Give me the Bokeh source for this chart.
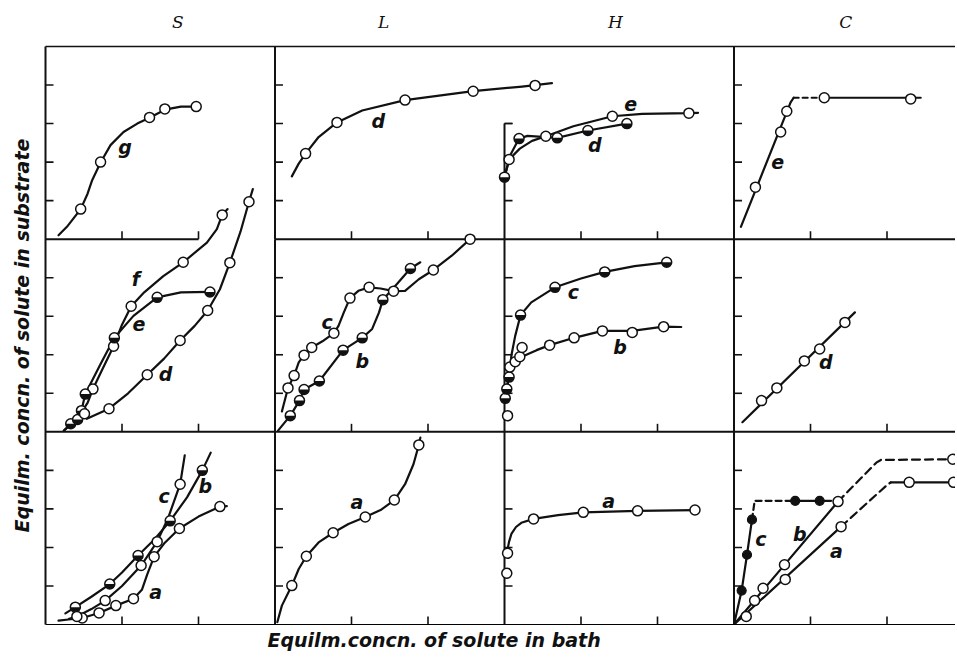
import numpy as np
from bokeh.plotting import figure
from bokeh.models import ColumnDataSource, FixedTicker, LinearAxis, Range1d, Title
from bokeh.core.properties import value
from bokeh.embed import file_html
from bokeh.resources import INLINE

# ---------------- chart texts ----------------
COLUMN_TITLES = ["S", "L", "H", "C"]
ROW_NAMES = ["top", "mid", "bottom"]
X_TITLE = "Equilm.concn. of solute in bath"
Y_TITLE = "Equilm. concn. of solute in substrate"
PANEL_X_TICKS = [1, 2]
PANEL_Y_TICKS = [1, 2, 3, 4]

# ---------------- data (local panel units) ----------------
# S column
S_TOP_G_LINE_X = [0.17, 0.28, 0.46, 0.55, 0.61, 0.72, 0.85, 1.02, 1.20, 1.36, 1.56, 1.77, 1.97]
S_TOP_G_LINE_Y = [0.10, 0.32, 0.78, 1.18, 1.53, 1.99, 2.44, 2.78, 3.00, 3.15, 3.36, 3.44, 3.44]
S_TOP_G_PTS_X = [0.46, 0.72, 1.36, 1.56, 1.97]
S_TOP_G_PTS_Y = [0.78, 2.00, 3.16, 3.38, 3.44]

S_MID_F_LINE_X = [0.24, 0.42, 0.55, 0.62, 0.75, 0.89, 1.00, 1.12, 1.29, 1.54, 1.80, 2.11, 2.24, 2.31, 2.38]
S_MID_F_LINE_Y = [0.03, 0.36, 0.75, 1.11, 1.65, 2.22, 2.78, 3.26, 3.62, 4.04, 4.40, 4.91, 5.26, 5.63, 5.78]
S_MID_F_PTS_X = [0.62, 0.89, 1.12, 1.80, 2.31]
S_MID_F_PTS_Y = [1.11, 2.22, 3.26, 4.40, 5.63]

S_MID_E_LINE_X = [0.24, 0.33, 0.42, 0.47, 0.52, 0.72, 0.90, 1.15, 1.46, 1.77, 2.15, 2.20]
S_MID_E_LINE_Y = [0.03, 0.21, 0.32, 0.55, 0.98, 1.76, 2.44, 3.01, 3.49, 3.62, 3.63, 3.65]
S_MID_E_PTS_X = [0.33, 0.42, 0.47, 0.52, 0.90, 1.46, 2.15]
S_MID_E_PTS_Y = [0.21, 0.32, 0.55, 0.98, 2.44, 3.49, 3.63]

S_MID_D_LINE_X = [0.54, 0.83, 1.08, 1.33, 1.55, 1.76, 1.95, 2.12, 2.28, 2.41, 2.55, 2.66, 2.71]
S_MID_D_LINE_Y = [0.34, 0.60, 1.00, 1.48, 1.90, 2.37, 2.75, 3.15, 3.70, 4.39, 5.20, 5.97, 6.30]
S_MID_D_PTS_X = [0.51, 0.83, 1.33, 1.76, 2.12, 2.41, 2.66]
S_MID_D_PTS_Y = [0.47, 0.60, 1.48, 2.37, 3.15, 4.39, 5.97]

S_BOT_A_LINE_X = [0.17, 0.30, 0.48, 0.70, 0.92, 1.15, 1.26, 1.33, 1.42, 1.55, 1.75, 2.00, 2.28, 2.37]
S_BOT_A_LINE_Y = [0.10, 0.13, 0.17, 0.30, 0.49, 0.67, 0.90, 1.30, 1.76, 2.10, 2.49, 2.80, 3.06, 3.07]
S_BOT_A_PTS_X = [0.48, 0.70, 0.92, 1.15, 1.42, 1.75, 2.28]
S_BOT_A_PTS_Y = [0.17, 0.30, 0.49, 0.67, 1.76, 2.49, 3.06]

S_BOT_B_LINE_X = [0.26, 0.39, 0.60, 0.84, 1.00, 1.21, 1.42, 1.63, 1.85, 2.05, 2.16]
S_BOT_B_LINE_Y = [0.29, 0.45, 0.72, 1.05, 1.35, 1.79, 2.20, 2.69, 3.30, 4.00, 4.46]
S_BOT_B_PTS_X = [0.39, 0.84, 1.21, 1.63, 2.05]
S_BOT_B_PTS_Y = [0.45, 1.05, 1.79, 2.69, 4.00]

S_BOT_C_LINE_X = [0.31, 0.41, 0.60, 0.78, 1.00, 1.25, 1.46, 1.60, 1.76, 1.82]
S_BOT_C_LINE_Y = [0.15, 0.21, 0.40, 0.62, 1.00, 1.53, 2.15, 2.75, 3.64, 4.39]
S_BOT_C_PTS_X = [0.41, 0.78, 1.25, 1.46, 1.76]
S_BOT_C_PTS_Y = [0.21, 0.62, 1.53, 2.15, 3.64]

# L column
L_TOP_D_LINE_X = [0.22, 0.31, 0.40, 0.57, 0.81, 1.14, 1.70, 2.59, 3.23, 3.62]
L_TOP_D_LINE_Y = [1.63, 1.96, 2.22, 2.65, 3.03, 3.34, 3.61, 3.84, 3.96, 4.05]
L_TOP_D_PTS_X = [0.40, 0.81, 1.70, 2.59, 3.40]
L_TOP_D_PTS_Y = [2.22, 3.03, 3.61, 3.84, 3.99]

L_MID_C_LINE_X = [0.09, 0.17, 0.25, 0.31, 0.38, 0.48, 0.62, 0.77, 0.83, 0.90, 0.98, 1.09, 1.23, 1.38, 1.55, 1.70, 1.88, 2.07, 2.31, 2.55]
L_MID_C_LINE_Y = [0.53, 1.14, 1.46, 1.80, 1.99, 2.19, 2.35, 2.56, 2.75, 3.10, 3.47, 3.66, 3.75, 3.72, 3.65, 3.66, 3.96, 4.20, 4.57, 5.00]
L_MID_C_PTS_X = [0.17, 0.25, 0.38, 0.48, 0.77, 0.98, 1.23, 1.55, 2.07, 2.55]
L_MID_C_PTS_Y = [1.14, 1.46, 1.99, 2.19, 2.56, 3.47, 3.75, 3.65, 4.20, 5.00]

L_MID_B_LINE_X = [0.04, 0.20, 0.32, 0.38, 0.58, 0.89, 1.14, 1.27, 1.36, 1.41, 1.60, 1.77, 1.90]
L_MID_B_LINE_Y = [0.03, 0.42, 0.81, 1.10, 1.32, 2.12, 2.44, 2.67, 3.10, 3.43, 3.85, 4.24, 4.40]
L_MID_B_PTS_X = [0.20, 0.32, 0.38, 0.58, 0.89, 1.14, 1.41, 1.77]
L_MID_B_PTS_Y = [0.42, 0.81, 1.10, 1.32, 2.12, 2.44, 3.43, 4.24]

L_BOT_A_LINE_X = [0.03, 0.09, 0.22, 0.31, 0.41, 0.57, 0.76, 0.96, 1.18, 1.38, 1.56, 1.70, 1.81, 1.88, 1.90]
L_BOT_A_LINE_Y = [0.06, 0.49, 1.01, 1.44, 1.77, 2.13, 2.38, 2.61, 2.79, 2.97, 3.23, 3.64, 4.16, 4.66, 4.85]
L_BOT_A_PTS_X = [0.22, 0.41, 0.76, 1.18, 1.56, 1.88]
L_BOT_A_PTS_Y = [1.01, 1.77, 2.38, 2.79, 3.23, 4.66]

# H column
H_TOP_E_LINE_X = [0.00, 0.06, 0.20, 0.36, 0.54, 0.90, 1.41, 1.80, 2.41, 2.53]
H_TOP_E_LINE_Y = [1.61, 2.07, 2.35, 2.55, 2.67, 2.93, 3.19, 3.25, 3.27, 3.28]
H_TOP_E_PTS_X = [0.06, 0.54, 1.41, 2.41]
H_TOP_E_PTS_Y = [2.07, 2.67, 3.19, 3.27]

H_TOP_D_LINE_X = [0.00, 0.08, 0.19, 0.30, 0.69, 1.09, 1.60]
H_TOP_D_LINE_Y = [1.61, 2.20, 2.61, 2.68, 2.63, 2.82, 3.00]
H_TOP_D_PTS_X = [0.00, 0.19, 0.69, 1.09, 1.60]
H_TOP_D_PTS_Y = [1.61, 2.61, 2.63, 2.82, 3.00]

H_MID_C_LINE_X = [0.01, 0.03, 0.06, 0.09, 0.14, 0.21, 0.35, 0.66, 1.00, 1.31, 1.70, 2.12]
H_MID_C_LINE_Y = [0.85, 1.11, 1.42, 1.98, 2.49, 3.03, 3.36, 3.75, 3.98, 4.15, 4.30, 4.40]
H_MID_C_PTS_X = [0.01, 0.03, 0.06, 0.21, 0.66, 1.31, 2.12]
H_MID_C_PTS_Y = [0.87, 1.11, 1.42, 3.03, 3.75, 4.15, 4.40]

H_MID_B_LINE_X = [0.03, 0.05, 0.12, 0.22, 0.42, 0.59, 0.91, 1.28, 1.67, 2.08, 2.31]
H_MID_B_LINE_Y = [0.98, 1.50, 1.76, 1.94, 2.12, 2.25, 2.44, 2.62, 2.62, 2.73, 2.72]
H_MID_B_PTS_X = [0.04, 0.07, 0.14, 0.20, 0.23, 0.59, 0.91, 1.28, 1.67, 2.08]
H_MID_B_PTS_Y = [0.42, 1.68, 1.82, 1.95, 2.19, 2.25, 2.44, 2.62, 2.58, 2.73]

H_BOT_A_LINE_X = [0.03, 0.06, 0.09, 0.15, 0.22, 0.38, 0.70, 1.03, 1.74, 2.49]
H_BOT_A_LINE_Y = [1.85, 2.15, 2.35, 2.53, 2.64, 2.74, 2.84, 2.91, 2.95, 2.97]
H_BOT_A_PTS_X = [0.03, 0.04, 0.38, 1.03, 1.74, 2.49]
H_BOT_A_PTS_Y = [1.33, 1.85, 2.74, 2.91, 2.95, 2.97]

# C column
C_TOP_E_RISE_X = [0.09, 0.74, 0.78]
C_TOP_E_RISE_Y = [0.32, 3.55, 3.67]
C_TOP_E_GAP_X = [0.78, 1.18]
C_TOP_E_GAP_Y = [3.67, 3.67]
C_TOP_E_FLAT_X = [1.18, 2.44]
C_TOP_E_FLAT_Y = [3.67, 3.67]
C_TOP_E_PTS_X = [0.28, 0.61, 0.69, 1.18, 2.31]
C_TOP_E_PTS_Y = [1.35, 2.78, 3.32, 3.67, 3.64]

C_MID_D_LINE_X = [0.11, 1.58]
C_MID_D_LINE_Y = [0.25, 3.10]
C_MID_D_PTS_X = [0.36, 0.56, 0.92, 1.12, 1.45]
C_MID_D_PTS_Y = [0.81, 1.14, 1.84, 2.15, 2.84]

C_BOT_C_RISE_X = [0.00, 0.10, 0.17, 0.235]
C_BOT_C_RISE_Y = [0.00, 0.88, 1.81, 2.72]
C_BOT_C_GAP_X = [0.235, 0.27, 0.80]
C_BOT_C_GAP_Y = [2.72, 3.21, 3.21]
C_BOT_C_FLAT_X = [0.80, 1.27]
C_BOT_C_FLAT_Y = [3.21, 3.21]
C_BOT_C_PTS_X = [0.10, 0.17, 0.235, 0.80, 1.12]
C_BOT_C_PTS_Y = [0.88, 1.81, 2.72, 3.21, 3.21]

C_BOT_B_RISE_X = [0.00, 1.36]
C_BOT_B_RISE_Y = [0.00, 3.19]
C_BOT_B_GAP_X = [1.36, 1.86, 1.92, 2.95]
C_BOT_B_GAP_Y = [3.19, 4.20, 4.27, 4.29]
C_BOT_B_PTS_X = [0.27, 0.38, 0.66, 1.36, 2.86]
C_BOT_B_PTS_Y = [0.62, 0.94, 1.55, 3.19, 4.29]

C_BOT_A_RISE_X = [0.00, 1.40]
C_BOT_A_RISE_Y = [0.00, 2.54]
C_BOT_A_GAP_X = [1.40, 2.00, 2.05]
C_BOT_A_GAP_Y = [2.54, 3.62, 3.69]
C_BOT_A_FLAT_X = [2.05, 2.95]
C_BOT_A_FLAT_Y = [3.69, 3.69]
C_BOT_A_PTS_X = [0.16, 0.67, 1.40, 2.29, 2.87]
C_BOT_A_PTS_Y = [0.21, 1.17, 2.54, 3.69, 3.69]

# ---------------- curve table (layout/style kept here) ----------------
CURVES = [
    dict(col="S", row="top", name="g", lines=[(S_TOP_G_LINE_X, S_TOP_G_LINE_Y, "solid")], pts=(S_TOP_G_PTS_X, S_TOP_G_PTS_Y), mark="open", lab=(1.04, 2.39)),
    dict(col="S", row="mid", name="f", lines=[(S_MID_F_LINE_X, S_MID_F_LINE_Y, "solid")], pts=(S_MID_F_PTS_X, S_MID_F_PTS_Y), mark="open", lab=(1.18, 3.96)),
    dict(col="S", row="mid", name="e", lines=[(S_MID_E_LINE_X, S_MID_E_LINE_Y, "solid")], pts=(S_MID_E_PTS_X, S_MID_E_PTS_Y), mark="half", lab=(1.22, 2.80)),
    dict(col="S", row="mid", name="d", lines=[(S_MID_D_LINE_X, S_MID_D_LINE_Y, "solid")], pts=(S_MID_D_PTS_X, S_MID_D_PTS_Y), mark="open", lab=(1.57, 1.50)),
    dict(col="S", row="bottom", name="a", lines=[(S_BOT_A_LINE_X, S_BOT_A_LINE_Y, "solid")], pts=(S_BOT_A_PTS_X, S_BOT_A_PTS_Y), mark="open", lab=(1.44, 0.84)),
    dict(col="S", row="bottom", name="b", lines=[(S_BOT_B_LINE_X, S_BOT_B_LINE_Y, "solid")], pts=(S_BOT_B_PTS_X, S_BOT_B_PTS_Y), mark="half", lab=(2.09, 3.60)),
    dict(col="S", row="bottom", name="c", lines=[(S_BOT_C_LINE_X, S_BOT_C_LINE_Y, "solid")], pts=(S_BOT_C_PTS_X, S_BOT_C_PTS_Y), mark="open", lab=(1.55, 3.34)),
    dict(col="L", row="top", name="d", lines=[(L_TOP_D_LINE_X, L_TOP_D_LINE_Y, "solid")], pts=(L_TOP_D_PTS_X, L_TOP_D_PTS_Y), mark="open", lab=(1.35, 3.06)),
    dict(col="L", row="mid", name="c", lines=[(L_MID_C_LINE_X, L_MID_C_LINE_Y, "solid")], pts=(L_MID_C_PTS_X, L_MID_C_PTS_Y), mark="open", lab=(0.68, 2.84)),
    dict(col="L", row="mid", name="b", lines=[(L_MID_B_LINE_X, L_MID_B_LINE_Y, "solid")], pts=(L_MID_B_PTS_X, L_MID_B_PTS_Y), mark="half", lab=(1.14, 1.85)),
    dict(col="L", row="bottom", name="a", lines=[(L_BOT_A_LINE_X, L_BOT_A_LINE_Y, "solid")], pts=(L_BOT_A_PTS_X, L_BOT_A_PTS_Y), mark="open", lab=(1.07, 3.17)),
    dict(col="H", row="top", name="e", lines=[(H_TOP_E_LINE_X, H_TOP_E_LINE_Y, "solid")], pts=(H_TOP_E_PTS_X, H_TOP_E_PTS_Y), mark="open", lab=(1.65, 3.50)),
    dict(col="H", row="top", name="d", lines=[(H_TOP_D_LINE_X, H_TOP_D_LINE_Y, "solid")], pts=(H_TOP_D_PTS_X, H_TOP_D_PTS_Y), mark="half", lab=(1.18, 2.44)),
    dict(col="H", row="mid", name="c", lines=[(H_MID_C_LINE_X, H_MID_C_LINE_Y, "solid")], pts=(H_MID_C_PTS_X, H_MID_C_PTS_Y), mark="half", lab=(0.90, 3.62)),
    dict(col="H", row="mid", name="b", lines=[(H_MID_B_LINE_X, H_MID_B_LINE_Y, "solid")], pts=(H_MID_B_PTS_X, H_MID_B_PTS_Y), mark="open", lab=(1.51, 2.19)),
    dict(col="H", row="bottom", name="a", lines=[(H_BOT_A_LINE_X, H_BOT_A_LINE_Y, "solid")], pts=(H_BOT_A_PTS_X, H_BOT_A_PTS_Y), mark="open", lab=(1.36, 3.21)),
    dict(col="C", row="top", name="e", lines=[(C_TOP_E_RISE_X, C_TOP_E_RISE_Y, "solid"), (C_TOP_E_GAP_X, C_TOP_E_GAP_Y, "5 4"), (C_TOP_E_FLAT_X, C_TOP_E_FLAT_Y, "solid")], pts=(C_TOP_E_PTS_X, C_TOP_E_PTS_Y), mark="open", lab=(0.57, 2.00)),
    dict(col="C", row="mid", name="d", lines=[(C_MID_D_LINE_X, C_MID_D_LINE_Y, "solid")], pts=(C_MID_D_PTS_X, C_MID_D_PTS_Y), mark="open", lab=(1.20, 1.81)),
    dict(col="C", row="bottom", name="c", lines=[(C_BOT_C_RISE_X, C_BOT_C_RISE_Y, "solid"), (C_BOT_C_GAP_X, C_BOT_C_GAP_Y, "6 4"), (C_BOT_C_FLAT_X, C_BOT_C_FLAT_Y, "solid")], pts=(C_BOT_C_PTS_X, C_BOT_C_PTS_Y), mark="filled", lab=(0.35, 2.22)),
    dict(col="C", row="bottom", name="b", lines=[(C_BOT_B_RISE_X, C_BOT_B_RISE_Y, "solid"), (C_BOT_B_GAP_X, C_BOT_B_GAP_Y, "8 5")], pts=(C_BOT_B_PTS_X, C_BOT_B_PTS_Y), mark="open", lab=(0.86, 2.35)),
    dict(col="C", row="bottom", name="a", lines=[(C_BOT_A_RISE_X, C_BOT_A_RISE_Y, "solid"), (C_BOT_A_GAP_X, C_BOT_A_GAP_Y, "8 5"), (C_BOT_A_FLAT_X, C_BOT_A_FLAT_Y, "solid")], pts=(C_BOT_A_PTS_X, C_BOT_A_PTS_Y), mark="open", lab=(1.34, 1.92)),
]

# ---------------- layout constants ----------------
PANEL_W, PANEL_H = 3.0, 5.0
N_COLS, N_ROWS = len(COLUMN_TITLES), len(ROW_NAMES)
W, H = 955, 655
BORDER_L, BORDER_T, BORDER_B = 45, 46, 31
PX_PER_X = 76.5
X_MAX = (W - BORDER_L) / PX_PER_X
Y_MAX = N_ROWS * PANEL_H
LEFT_AXIS_TOP = {("H", "top"): 3.0}      # H-top axis is drawn only up to 3
BOTTOM_AXIS_END = {("S", "top"): 2.0}    # S-top axis line stops at tick 2
TITLE_X = [1.73, 4.42, 7.45, 10.46]      # column heading positions
TICK_PX = 8
INK = "#111111"
LETTER_FONT = "DejaVu Sans"


def to_global(col, row, xs, ys):
    ci = COLUMN_TITLES.index(col)
    ri = ROW_NAMES.index(row)
    gx = [ci * PANEL_W + v for v in xs]
    gy = [(N_ROWS - 1 - ri) * PANEL_H + v for v in ys]
    return gx, gy


p = figure(width=W, height=H, x_range=Range1d(0, X_MAX), y_range=Range1d(0, Y_MAX),
           output_backend="svg", toolbar_location=None, tools="",
           min_border_left=BORDER_L, min_border_right=0,
           min_border_top=BORDER_T, min_border_bottom=BORDER_B)
p.outline_line_color = None
p.xgrid.visible = False
p.ygrid.visible = False
p.background_fill_color = "white"
p.border_fill_color = "white"

# outer frame lines come from the plot's own axes (no numeric labels in the original)
p.xaxis.ticker = FixedTicker(ticks=[])
p.yaxis.ticker = FixedTicker(ticks=[])
top_axis = LinearAxis(ticker=FixedTicker(ticks=TITLE_X),
                      major_label_overrides={x: t for x, t in zip(TITLE_X, COLUMN_TITLES)})
p.add_layout(top_axis, "above")
for ax in (p.xaxis[0], p.yaxis[0], top_axis):
    ax.major_tick_in = 0
    ax.major_tick_out = 0
    ax.minor_tick_in = 0
    ax.minor_tick_out = 0
    ax.axis_line_width = 2
    ax.axis_line_color = INK
top_axis.axis_line_width = 1.5
top_axis.major_label_standoff = 15
top_axis.major_label_text_font = "DejaVu Serif"
top_axis.major_label_text_font_style = "italic"
top_axis.major_label_text_font_size = "17px"
top_axis.major_label_text_color = INK

p.yaxis.axis_label = Y_TITLE
p.yaxis.axis_label_standoff = 13
p.yaxis.axis_label_text_font = LETTER_FONT
p.yaxis.axis_label_text_font_style = "bold italic"
p.yaxis.axis_label_text_font_size = "19px"
p.yaxis.axis_label_text_color = INK

p.add_layout(Title(text=X_TITLE, align="left", offset=222, standoff=4, text_font=LETTER_FONT,
                   text_font_style="bold italic", text_font_size="19px", text_color=INK), "below")

# panel borders and inward ticks
seg = dict(x0=[], y0=[], x1=[], y1=[])
hx, hy, vx, vy = [], [], [], []
for ci, col in enumerate(COLUMN_TITLES):
    for ri, row in enumerate(ROW_NAMES):
        top = LEFT_AXIS_TOP.get((col, row), PANEL_H)
        x = ci * PANEL_W
        y0 = (N_ROWS - 1 - ri) * PANEL_H
        if ci > 0:
            seg["x0"].append(x); seg["x1"].append(x)
            seg["y0"].append(y0); seg["y1"].append(y0 + top)
        for t in PANEL_Y_TICKS:
            if t <= top:
                hx.append(x); hy.append(y0 + t)
        if top < PANEL_H:
            hx.append(x); hy.append(y0 + top)
for ri, row in enumerate(ROW_NAMES):
    y = (N_ROWS - 1 - ri) * PANEL_H
    for ci, col in enumerate(COLUMN_TITLES):
        x0 = ci * PANEL_W
        if ri < N_ROWS - 1:
            end = BOTTOM_AXIS_END.get((col, row), PANEL_W if ci < N_COLS - 1 else X_MAX - x0)
            seg["x0"].append(x0); seg["x1"].append(x0 + end)
            seg["y0"].append(y); seg["y1"].append(y)
        for t in PANEL_X_TICKS:
            vx.append(x0 + t); vy.append(y)
p.segment(x0="x0", y0="y0", x1="x1", y1="y1", source=ColumnDataSource(seg), line_width=2, line_color=INK)
p.ray(x=hx, y=hy, length=TICK_PX, length_units="screen", angle=0, line_width=1.6, line_color=INK)
p.ray(x=vx, y=vy, length=TICK_PX, length_units="screen", angle=np.pi / 2, line_width=1.6, line_color=INK)

# curves
for c in CURVES:
    for xs, ys, dash in c["lines"]:
        gx, gy = to_global(c["col"], c["row"], xs, ys)
        p.line(gx, gy, line_width=2.2, line_color=INK, line_dash=dash, line_join="round", line_cap="round")

# markers
for c in CURVES:
    gx, gy = to_global(c["col"], c["row"], *c["pts"])
    if c["mark"] == "filled":
        p.scatter(gx, gy, marker="circle", size=9, fill_color=INK, line_color=INK, line_width=1.2)
    else:
        p.scatter(gx, gy, marker="circle", size=10, fill_color="white", line_color=INK, line_width=1.5)
        if c["mark"] == "half":
            p.wedge(gx, gy, radius=5, radius_units="screen", start_angle=np.pi, end_angle=2 * np.pi,
                    fill_color=INK, line_color=None)

# curve letters
lab_x, lab_y, lab_t = [], [], []
for c in CURVES:
    gx, gy = to_global(c["col"], c["row"], [c["lab"][0]], [c["lab"][1]])
    lab_x += gx; lab_y += gy; lab_t.append(c["name"])
p.text(x=lab_x, y=lab_y, text=lab_t, text_font=value(LETTER_FONT), text_font_style="bold italic",
       text_font_size="19px", text_align="center", text_baseline="middle", text_color=INK)

open("out.html", "w").write(file_html(p, INLINE))
